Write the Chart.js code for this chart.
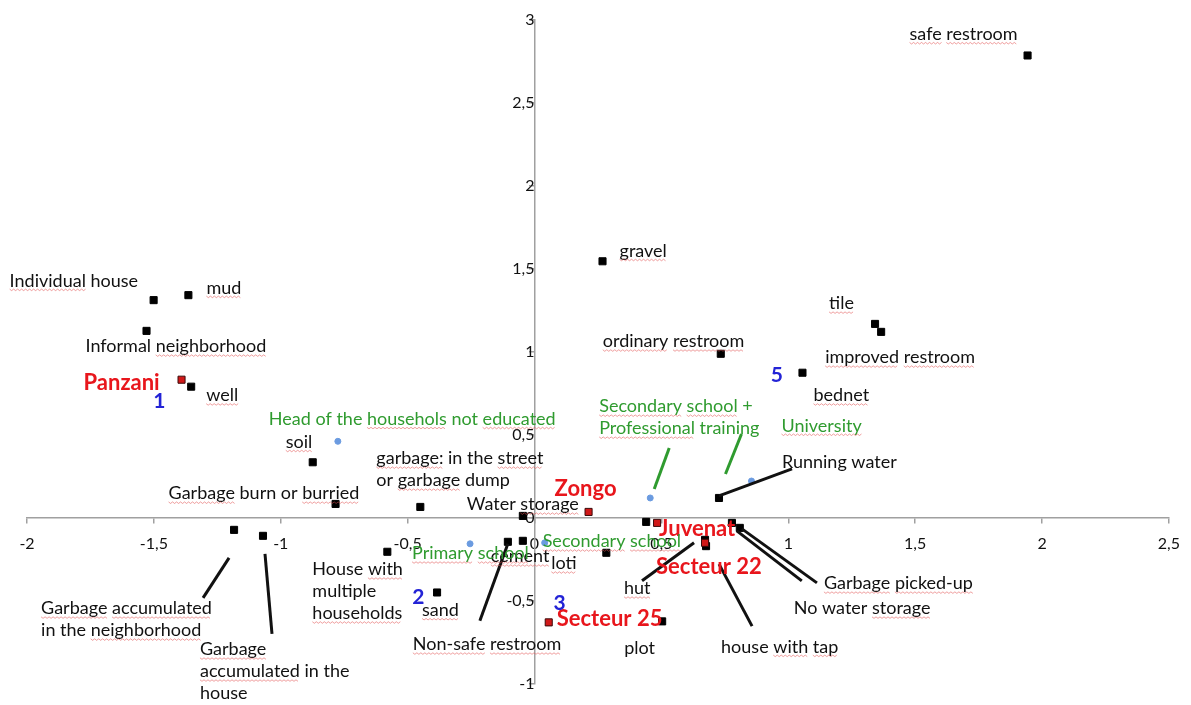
<!DOCTYPE html>
<html>
<head>
<meta charset="utf-8">
<script src="https://cdn.jsdelivr.net/npm/chart.js@4.4.1/dist/chart.umd.min.js"></script>
<style>
  html, body { margin: 0; padding: 0; background: #fff; }
  #wrap { width: 1191px; height: 705px; }
</style>
</head>
<body>
<div id="wrap"><canvas id="mca" width="1191" height="705"></canvas></div>
<script>
// terms (black squares)
const termNames = [
  'safe restroom', 'gravel', 'Individual house', 'mud', 'Informal neighborhood',
  'well', 'soil', 'Garbage burn or burried', 'garbage: in the street\nor garbage dump',
  'Water storage', 'Running water', 'ordinary restroom', 'tile', 'improved restroom',
  'bednet', 'Garbage accumulated\nin the neighborhood', 'Garbage\naccumulated in the\nhouse',
  'House with\nmultiple\nhouseholds', 'Non-safe restroom', 'cement', 'loti', 'hut',
  'sand', 'plot', 'house with tap', 'Garbage picked-up', 'No water storage', ''
];
const termX = [1.943, 0.268, -1.501, -1.364, -1.529, -1.353, -0.874, -0.784, -0.450,
  -0.046, 0.727, 0.734, 1.342, 1.366, 1.056, -1.184, -1.070, -0.580, -0.105, -0.046,
  0.283, 0.672, -0.384, 0.503, 0.676, 0.778, 0.809, 0.440];
const termY = [2.784, 1.545, 1.311, 1.341, 1.126, 0.790, 0.335, 0.084, 0.066,
  0.012, 0.120, 0.988, 1.168, 1.120, 0.874, -0.072, -0.108, -0.204, -0.144, -0.138,
  -0.210, -0.132, -0.449, -0.623, -0.170, -0.030, -0.060, -0.024];

// neighbourhoods (red squares)
const zoneNames = ['Panzani', 'Zongo', 'Juvenat', 'Secteur 22', 'Secteur 25'];
const zoneX = [-1.391, 0.213, 0.483, 0.672, 0.056];
const zoneY = [0.832, 0.036, -0.030, -0.150, -0.629];

// education of head of household (blue dots)
const eduNames = ['Head of the househols not educated', 'Primary school', 'Secondary school',
  'Secondary school +\nProfessional training', 'University'];
const eduX = [-0.775, -0.254, 0.040, 0.456, 0.855];
const eduY = [0.461, -0.156, -0.150, 0.120, 0.222];

// cluster numbers
const groupTags = ['1', '2', '3', '5'];
const groupX = [-1.478, -0.458, 0.099, 0.955];
const groupY = [0.700, -0.480, -0.515, 0.856];

// label placement: [dx, dy] from the point, optional leader [x1, y1, x2, y2]
const termPlace = [
  [-118, -22], [17, -11], [-144, -20], [18, -8], [-61, 15],
  [15, 8], [-27, -21], [-167, -11], [-44, -49],
  [-56, -12], [63, -36, [0, -2, 73, -29]], [-118, -13], [-46, -21], [-56, 25],
  [11, 22], [-193, 78, [-5, 28, -31, 68]], [-63, 113, [2, 18, 9, 98]],
  [-75, 17], [-95, 102, [0, 2, -28, 79]], [-32, 15], [-55, 10], [-81, 48, [-11, 3, -63, 41]],
  [-15, 17], [-38, 26], [15, 100, [13, 18, 46, 80]], [92, 60, [10, 6, 85, 60]], [54, 80, [-3, 3, 62, 53]], [0, 0]
];
const zonePlace = [[-98, 2], [-34, -24], [2, 5], [-49, 23], [8, -4]];
const eduPlace = [[-69, -23], [-58, 9], [-2, -2], [-51, -92, [19, -50, 4, -9]], [30, -56, [-10, -47, -26, -7]]];

// words Word flagged with red squiggles
const flagged = ['Individual', 'mud', 'neighborhood', 'well', 'househols', 'educated', 'soil',
  'Garbage', 'garbage', 'burried', 'street', 'storage', 'Zongo', 'Secondary', 'school',
  'University', 'gravel', 'safe', 'restroom', 'tile', 'ordinary', 'improved', 'bednet',
  'with', 'households', 'Primary', 'sand', 'Non-safe', 'loti', 'hut', 'tap', 'picked-up',
  'accumulated', 'cement', 'Professional', 'garbage:'];

const FONT = 'Lato, "Open Sans", sans-serif';

function pts(xs, ys) { return xs.map((x, i) => ({ x: x, y: ys[i] })); }
function comma(v) { return String(v).replace('.', ','); }

function squiggle(ctx, x, y, w) {
  ctx.save();
  ctx.strokeStyle = 'rgba(225,80,80,0.55)';
  ctx.lineWidth = 1;
  ctx.beginPath();
  for (let i = 0; i <= w; i += 2) {
    const yy = y + ((i / 2) % 2 ? 1 : -0.5);
    if (i === 0) ctx.moveTo(x + i, yy); else ctx.lineTo(x + i, yy);
  }
  ctx.stroke();
  ctx.restore();
}

function drawLabel(ctx, text, x, cy, style) {
  ctx.font = style.font;
  ctx.fillStyle = style.color;
  ctx.textAlign = 'left';
  ctx.textBaseline = 'alphabetic';
  const lines = text.split('\n');
  lines.forEach((ln, k) => {
    const by = cy + k * style.lh + style.size * 0.36;
    ctx.fillText(ln, x, by);
    if (!style.flags) return;
    let pos = 0;
    ln.split(' ').forEach(word => {
      const wx = ctx.measureText(ln.slice(0, pos)).width;
      const ww = ctx.measureText(word).width;
      if (flagged.indexOf(word) >= 0) squiggle(ctx, x + wx, by + 3, ww);
      pos += word.length + 1;
    });
  });
}

const styles = {
  term: { font: '18px ' + FONT, size: 18, color: '#111', lh: 22, flags: true },
  zone: { font: 'bold 22px ' + FONT, size: 22, color: '#e8161c', lh: 24, flags: false },
  edu: { font: '18px ' + FONT, size: 18, color: '#2f9b2f', lh: 22, flags: true },
  tag: { font: 'bold 21px ' + FONT, size: 21, color: '#2323d6', lh: 22, flags: false }
};

const labelPlugin = {
  id: 'pointLabels',
  afterDatasetsDraw(chart) {
    const ctx = chart.ctx;
    const sx = chart.scales.x, sy = chart.scales.y;
    const groups = [
      [termNames, termX, termY, termPlace, styles.term, '#111'],
      [zoneNames, zoneX, zoneY, zonePlace, styles.zone, '#111'],
      [eduNames, eduX, eduY, eduPlace, styles.edu, '#2f9b2f']
    ];
    ctx.save();
    groups.forEach(([names, xs, ys, place, st, leadColor]) => {
      names.forEach((name, i) => {
        if (!name) return;
        const px = sx.getPixelForValue(xs[i]);
        const py = sy.getPixelForValue(ys[i]);
        const p = place[i];
        if (p[2]) {
          ctx.strokeStyle = leadColor;
          ctx.lineWidth = 3;
          ctx.beginPath();
          ctx.moveTo(px + p[2][0], py + p[2][1]);
          ctx.lineTo(px + p[2][2], py + p[2][3]);
          ctx.stroke();
        }
        drawLabel(ctx, name, px + p[0], py + p[1], st);
      });
    });
    groupTags.forEach((t, i) => {
      const px = sx.getPixelForValue(groupX[i]);
      const py = sy.getPixelForValue(groupY[i]);
      ctx.font = styles.tag.font;
      ctx.fillStyle = styles.tag.color;
      ctx.textAlign = 'center';
      ctx.textBaseline = 'middle';
      ctx.fillText(t, px, py);
    });
    ctx.restore();
  }
};

const axisStyle = (min, max) => ({
  type: 'linear',
  min: min,
  max: max,
  grid: { display: true, drawOnChartArea: false, drawTicks: true, tickLength: 5, color: '#a0a0a0', lineWidth: 1.5 },
  border: { display: true, color: '#a0a0a0', width: 1.5 },
  ticks: { stepSize: 0.5, color: '#111', font: { family: FONT, size: 16 }, callback: v => comma(v) }
});

const xAxis = axisStyle(-2, 2.5);
xAxis.position = { y: 0 };
xAxis.ticks.padding = 11;
const yAxis = axisStyle(-1, 3);
yAxis.position = { x: 0 };
yAxis.ticks.padding = 10;

new Chart(document.getElementById('mca'), {
  type: 'scatter',
  data: {
    datasets: [
      { label: 'zones', data: pts(zoneX, zoneY), pointStyle: 'rect', pointRadius: 5,
        backgroundColor: '#d01818', borderColor: '#3a0a0a', borderWidth: 1 },
      { label: 'terms', data: pts(termX, termY), pointStyle: 'rect', pointRadius: 5,
        backgroundColor: '#000', borderColor: '#000', borderWidth: 1 },
      { label: 'education', data: pts(eduX, eduY), pointStyle: 'circle', pointRadius: 3,
        backgroundColor: '#6b9be0', borderColor: '#6b9be0', borderWidth: 1 }
    ]
  },
  options: {
    responsive: false,
    animation: false,
    layout: { padding: { left: 27, right: 19, top: 16, bottom: 21 } },
    plugins: { legend: { display: false }, tooltip: { enabled: false } },
    scales: { x: xAxis, y: yAxis }
  },
  plugins: [labelPlugin]
});
</script>
</body>
</html>
